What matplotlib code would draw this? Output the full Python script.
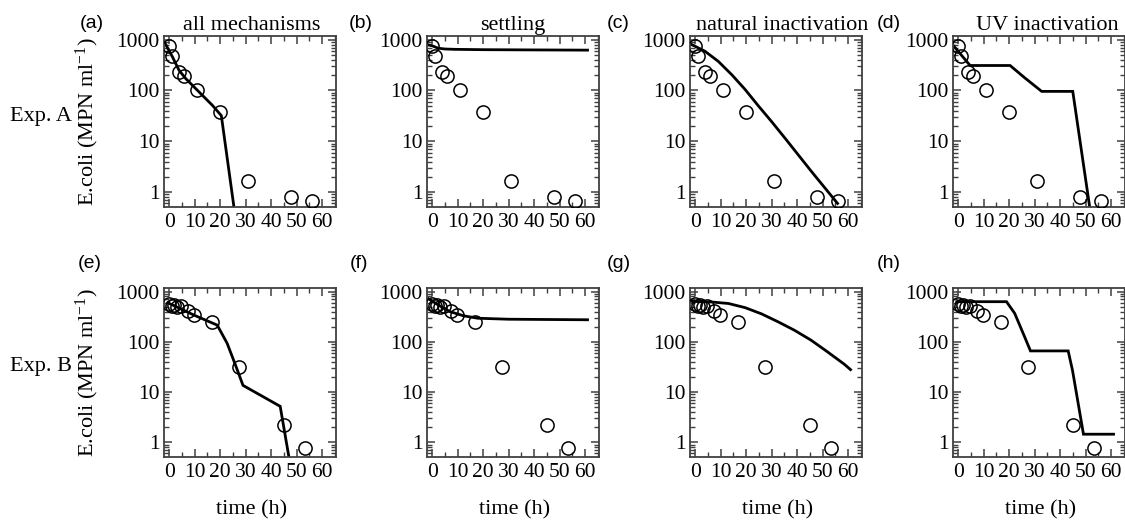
import matplotlib
matplotlib.use("Agg")
import matplotlib.pyplot as plt
from matplotlib.ticker import MultipleLocator, LogLocator, NullFormatter, FixedLocator

plt.rcParams['font.family'] = ['Liberation Serif', 'DejaVu Serif']
plt.rcParams['mathtext.fontset'] = 'custom'
plt.rcParams['mathtext.rm'] = 'Liberation Serif'
plt.rcParams['mathtext.it'] = 'Liberation Serif:italic'

# ---------------- data ----------------
# observations, Exp. A
tA = [0, 1, 4, 6, 11, 20, 31, 48, 56]
yA = [760, 470, 228, 190, 101, 38, 1.65, 0.8, 0.68]
# observations, Exp. B
tB = [0, 1, 2, 3, 4.5, 7.5, 9.8, 17, 27.4, 45, 53.3]
yB = [570, 520, 540, 500, 510, 410, 345, 245, 31, 2.25, 0.77]

# model curves, Exp. A
ta_all = [-1.6, 1.3, 3.9, 6.5, 11.8, 17, 20.5, 25.6]
ya_all = [850, 460, 250, 172, 93, 51, 32, 0.45]
ta_set = [-1.5, 0, 2.3, 5, 8.8, 20, 40, 61]
ya_set = [790, 760, 680, 655, 645, 635, 628, 622]
ta_nat = [-1.3, 3.9, 9.1, 14.4, 19.6, 24.8, 30, 35.3, 40.5, 45.8, 51, 55.9]
ya_nat = [800, 590, 374, 204, 105, 50, 24.5, 11.5, 5.4, 2.5, 1.2, 0.6]
ta_uv = [-1.8, 4.7, 20.4, 26.3, 32.8, 45, 51.8]
ya_uv = [760, 310, 310, 175, 96, 96, 0.45]

# model curves, Exp. B
tb_all = [-0.5, 9.8, 18.9, 22.8, 26.1, 29, 43.6, 47.2]
yb_all = [600, 340, 215, 93, 34, 13.6, 5.2, 0.45]
tb_set = [-1.4, 3, 7, 12.3, 18, 30, 61]
yb_set = [720, 520, 400, 330, 295, 282, 275]
tb_nat = [-1.5, 6.6, 13.1, 19.6, 26.1, 32.6, 39, 45.5, 52, 58.5, 61]
yb_nat = [640, 620, 580, 480, 360, 250, 170, 108, 63, 36, 28]
tb_uv = [-0.5, 19, 22.2, 26.1, 28.4, 43.2, 44.9, 49.2, 61]
yb_uv = [630, 630, 370, 126, 66, 66, 27, 1.45, 1.45]

titles = ["all mechanisms", "settling", "natural inactivation", "UV inactivation"]
letters_top = ["(a)", "(b)", "(c)", "(d)"]
letters_bot = ["(e)", "(f)", "(g)", "(h)"]
yticks = [1, 10, 100, 1000]
yticklabels = ["1", "10", "100", "1000"]
xticks = [0, 10, 20, 30, 40, 50, 60]

models = [
    [(ta_all, ya_all), (ta_set, ya_set), (ta_nat, ya_nat), (ta_uv, ya_uv)],
    [(tb_all, yb_all), (tb_set, yb_set), (tb_nat, yb_nat), (tb_uv, yb_uv)],
]
obs = [(tA, yA), (tB, yB)]

# ---------------- layout ----------------
W, H = 1125, 525
fig = plt.figure(figsize=(W / 100, H / 100), dpi=100)
lefts = [164, 427, 690, 953]
axw = 172
rows = [(36, 207), (288, 457)]
title_x = [252, 513, 782, 1047]
letter_x = [[92, 361, 618, 889], [90, 359, 619, 889]]
letter_y = [24, 264]
exp_y = [117, 367]

FS = 15.5
for r, (top, bot) in enumerate(rows):
    for c in range(4):
        ax = fig.add_axes([lefts[c] / W, 1 - bot / H, axw / W, (bot - top) / H])
        t_obs, y_obs = obs[r]
        tm, ym = models[r][c]
        ax.plot(tm, ym, color='black', lw=2.0, solid_joinstyle='miter', zorder=2)
        ax.plot(t_obs, y_obs, linestyle='none', marker='o', markersize=9.5,
                markerfacecolor='none', markeredgecolor='black', markeredgewidth=1.1, zorder=3)
        ax.set_yscale('log')
        ax.set_xlim(-2, 65.5)
        ax.set_ylim(0.51, 1180)
        ax.yaxis.set_major_locator(FixedLocator(yticks))
        ax.set_yticklabels(yticklabels)
        ax.yaxis.set_minor_locator(LogLocator(base=10, subs=range(2, 10), numticks=20))
        ax.yaxis.set_minor_formatter(NullFormatter())
        ax.set_xticks(xticks)
        ax.set_xticklabels([str(v) for v in xticks])
        ax.xaxis.set_minor_locator(MultipleLocator(5))
        ax.tick_params(which='both', direction='in', top=True, right=True,
                       colors='#404040', labelcolor='black', labelsize=FS)
        ax.tick_params(which='major', length=6, width=1.1)
        ax.tick_params(which='minor', length=3.5, width=1.0)
        ax.tick_params(axis='y', which='major', pad=3)
        ax.tick_params(axis='x', which='major', pad=4)
        for s in ax.spines.values():
            s.set_color('#404040')
            s.set_linewidth(1.3)
        if r == 0:
            fig.text(title_x[c] / W, 1 - 30 / H, titles[c], ha='center', va='baseline', fontsize=16)
        letters = letters_top if r == 0 else letters_bot
        fig.text(letter_x[r][c] / W, 1 - letter_y[r] / H, letters[c], ha='center', va='center',
                 fontsize=14, family=['Liberation Sans', 'DejaVu Sans'])
        if r == 1:
            fig.text((lefts[c] + axw / 2 + 2) / W, 1 - 510 / H, "time (h)", ha='center',
                     va='center', fontsize=16)

for r, (top, bot) in enumerate(rows):
    yc = 1 - (top + bot) / 2 / H
    fig.text(87 / W, yc, "E.coli (MPN ml$^{-1}$)", rotation=90, ha='center', va='center', fontsize=16)
    fig.text(10 / W, 1 - exp_y[r] / H, "Exp. A" if r == 0 else "Exp. B", ha='left', va='center',
             fontsize=16)

fig.savefig("out.png", dpi=100)
